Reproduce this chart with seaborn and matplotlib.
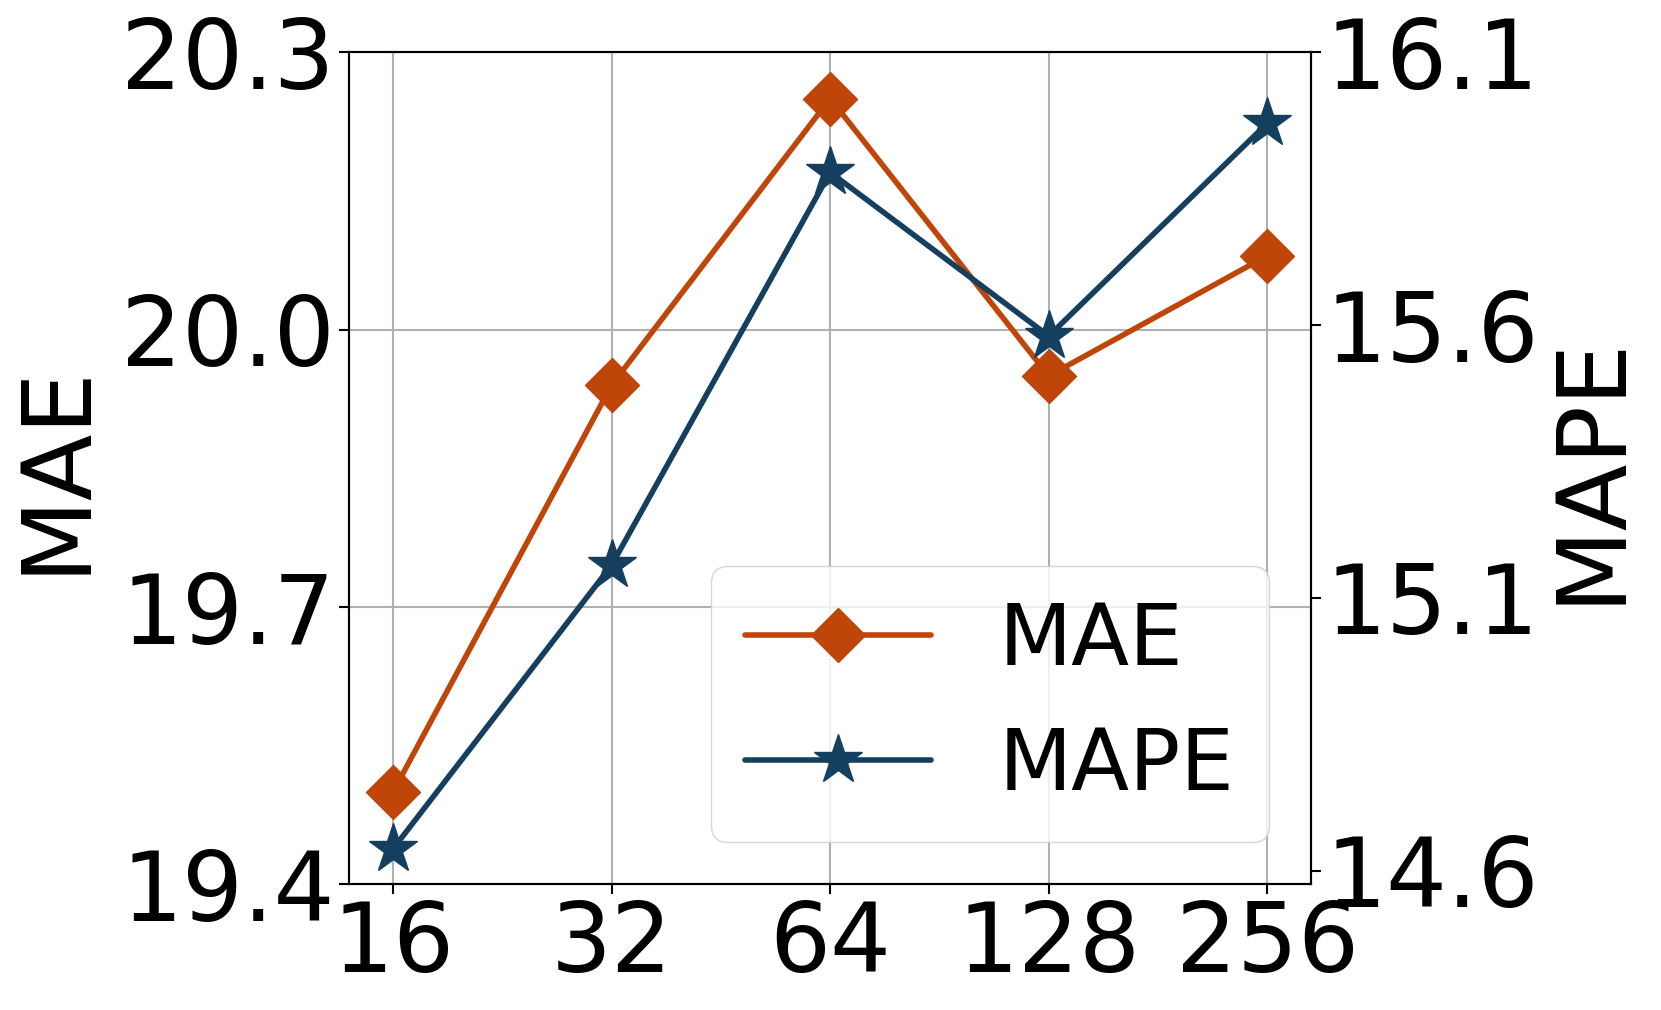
import matplotlib
matplotlib.use('Agg')
import matplotlib.pyplot as plt
import seaborn as sns

# batch sizes and the two error metrics
batch = ['16', '32', '64', '128', '256']
mae = [19.50, 19.94, 20.25, 19.95, 20.08]
mape = [14.64, 15.16, 15.88, 15.58, 15.97]

mae_ticks = [19.4, 19.7, 20.0, 20.3]
mape_ticks = [14.6, 15.1, 15.6, 16.1]

sns.set_style('ticks')
plt.rcParams['font.family'] = ['DejaVu Sans']
plt.rcParams['text.color'] = 'black'
plt.rcParams['axes.labelcolor'] = 'black'
plt.rcParams['xtick.color'] = 'black'
plt.rcParams['ytick.color'] = 'black'

orange = '#BF4508'
blue = '#153F5F'

fig, ax = plt.subplots(figsize=(16.61, 10.1), dpi=100)
fig.subplots_adjust(left=0.2103, right=0.7893, top=0.9482, bottom=0.1244)
ax2 = ax.twinx()

sns.lineplot(x=batch, y=mae, ax=ax, color=orange, marker='D', markersize=27,
             markeredgecolor=orange, markeredgewidth=1, linewidth=4, label='MAE', legend=False)
sns.lineplot(x=batch, y=mape, ax=ax2, color=blue, marker='*', markersize=37,
             markeredgecolor=blue, markeredgewidth=1, linewidth=4, label='MAPE', legend=False)

ax.set_xlim(-0.2, 4.2)
ax.set_ylim(19.4, 20.3)
ax.set_yticks(mae_ticks)
ax.set_yticklabels([f'{t:.1f}' for t in mae_ticks])
ax2.set_ylim(14.575, 16.1)
ax2.set_yticks(mape_ticks)
ax2.set_yticklabels([f'{t:.1f}' for t in mape_ticks])

ax.grid(True, color='#b0b0b0', linewidth=1.5)
ax2.grid(False)

ax.set_xlabel('')
ax.set_ylabel('MAE', fontsize=70, labelpad=13)
ax2.set_ylabel('MAPE', fontsize=70)

for a in (ax, ax2):
    a.tick_params(labelsize=69, length=7, width=1.5, color='black', direction='out')
    for sp in a.spines.values():
        sp.set_color('black')
        sp.set_linewidth(1.5)

h1, l1 = ax.get_legend_handles_labels()
h2, l2 = ax2.get_legend_handles_labels()
ax2.legend(h1 + h2, l1 + l2, loc='lower right', fontsize=61, handlelength=2.2)

fig.savefig('out.png', dpi=100)
